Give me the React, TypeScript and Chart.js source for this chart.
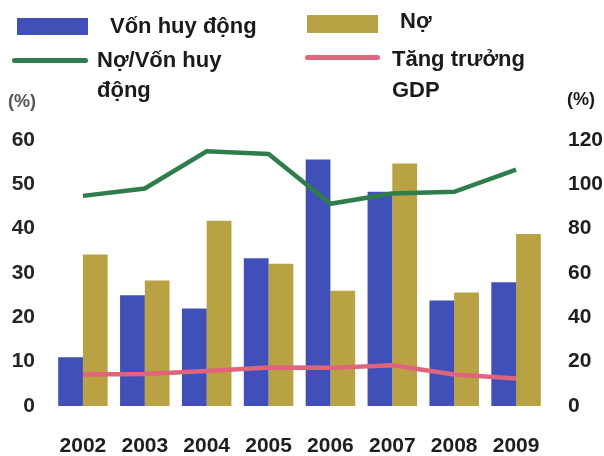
import React, { useEffect, useRef } from "react";
import { Chart, registerables } from "chart.js";

Chart.register(...registerables);

const years = ["2002", "2003", "2004", "2005", "2006", "2007", "2008", "2009"];
const vonHuyDong = [11.0, 25.0, 22.0, 33.3, 55.6, 48.3, 23.8, 27.9];
const noValues = [34.2, 28.3, 41.8, 32.1, 26.0, 54.7, 25.6, 38.8];
const noVonRatio = [94.8, 98.1, 114.9, 113.7, 91.2, 95.9, 96.6, 106.6];
const gdpGrowth = [7.1, 7.2, 7.9, 8.7, 8.6, 9.2, 7.1, 6.2];
const leftTicks = [0, 10, 20, 30, 40, 50, 60];
const rightTicks = [0, 20, 40, 60, 80, 100, 120];

const BLUE = "#4150b8";
const GOLD = "#b9a243";
const GREEN = "#2f7d4c";
const PINK = "#e0647c";
const FONT = "'Liberation Sans', Arial, sans-serif";

export default function App() {
  const ref = useRef<HTMLCanvasElement | null>(null);

  useEffect(() => {
    if (!ref.current) return;
    const chart = new Chart(ref.current, {
      type: "bar",
      data: {
        labels: years,
        datasets: [
          {
            type: "line",
            label: "Nợ/Vốn huy động",
            data: noVonRatio,
            yAxisID: "y1",
            borderColor: GREEN,
            backgroundColor: GREEN,
            borderWidth: 4.5,
            pointRadius: 0,
            tension: 0,
            order: 0,
          },
          {
            type: "line",
            label: "Tăng trưởng GDP",
            data: gdpGrowth,
            yAxisID: "y",
            borderColor: PINK,
            backgroundColor: PINK,
            borderWidth: 4.5,
            pointRadius: 0,
            tension: 0,
            order: 0,
          },
          {
            type: "bar",
            label: "Vốn huy động",
            data: vonHuyDong,
            yAxisID: "y",
            backgroundColor: BLUE,
            categoryPercentage: 0.8,
            barPercentage: 1.0,
            order: 1,
          },
          {
            type: "bar",
            label: "Nợ",
            data: noValues,
            yAxisID: "y",
            backgroundColor: GOLD,
            categoryPercentage: 0.8,
            barPercentage: 1.0,
            order: 1,
          },
        ],
      },
      options: {
        animation: false,
        responsive: false,
        maintainAspectRatio: false,
        layout: { padding: { top: 140, left: 0, right: 0, bottom: 0 } },
        plugins: {
          legend: { display: false },
          tooltip: { enabled: false },
        },
        scales: {
          x: {
            grid: { display: false, drawTicks: false },
            border: { display: false },
            ticks: {
              padding: 28,
              color: "#1e1e1e",
              font: { family: FONT, size: 21, weight: "bold" },
            },
            afterFit: (s: any) => {
              s.height = 50;
            },
          },
          y: {
            position: "left",
            min: 0,
            max: 60,
            afterBuildTicks: (s: any) => {
              s.ticks = leftTicks.map((v) => ({ value: v }));
            },
            grid: { display: false, drawTicks: false },
            border: { display: false },
            ticks: {
              padding: 17,
              color: "#262626",
              font: { family: FONT, size: 21, weight: "bold" },
            },
            afterFit: (s: any) => {
              s.width = 52;
            },
          },
          y1: {
            position: "right",
            min: 0,
            max: 120,
            afterBuildTicks: (s: any) => {
              s.ticks = rightTicks.map((v) => ({ value: v }));
            },
            grid: { display: false, drawTicks: false },
            border: { display: false },
            ticks: {
              padding: 21,
              color: "#1e1e1e",
              font: { family: FONT, size: 21, weight: "bold" },
            },
            afterFit: (s: any) => {
              s.width = 57;
            },
          },
        },
      },
    });
    return () => chart.destroy();
  }, []);

  const txt: React.CSSProperties = {
    position: "absolute",
    fontFamily: FONT,
    fontWeight: "bold",
    fontSize: 22,
    lineHeight: "22px",
    color: "#1a1a1a",
    whiteSpace: "nowrap",
  };

  return (
    <div style={{ position: "absolute", left: 0, top: 0, width: 604, height: 456, background: "#fff" }}>
      <canvas ref={ref} width={604} height={456} style={{ position: "absolute", left: 0, top: 0 }} />
      <div style={{ position: "absolute", left: 17, top: 18, width: 71, height: 17, background: BLUE }} />
      <div style={{ ...txt, left: 110, top: 15 }}>Vốn huy động</div>
      <div style={{ position: "absolute", left: 307, top: 15, width: 71, height: 18, background: GOLD }} />
      <div style={{ ...txt, left: 400, top: 10 }}>Nợ</div>
      <div style={{ position: "absolute", left: 12, top: 58, width: 76, height: 5, borderRadius: 3, background: GREEN }} />
      <div style={{ ...txt, left: 97, top: 49, lineHeight: "30px", marginTop: -4 }}>
        Nợ/Vốn huy
        <br />
        động
      </div>
      <div style={{ position: "absolute", left: 305, top: 55, width: 75, height: 5, borderRadius: 3, background: PINK }} />
      <div style={{ ...txt, left: 392, top: 47, lineHeight: "31px", marginTop: -4 }}>
        Tăng trưởng
        <br />
        GDP
      </div>
      <div style={{ ...txt, left: 8, top: 92, fontSize: 18, lineHeight: "18px", color: "#555" }}>(%)</div>
      <div style={{ ...txt, left: 567, top: 90, fontSize: 18, lineHeight: "18px" }}>(%)</div>
    </div>
  );
}
